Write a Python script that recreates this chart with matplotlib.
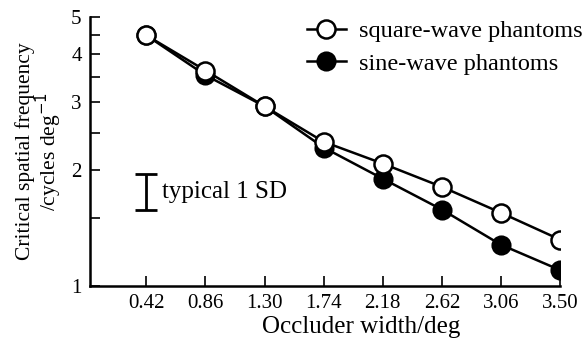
import matplotlib
matplotlib.use("Agg")
import matplotlib.pyplot as plt
from matplotlib.ticker import FixedLocator, NullFormatter

plt.rcParams['font.family'] = ['Liberation Serif', 'DejaVu Serif']

width = [0.42, 0.86, 1.30, 1.74, 2.18, 2.62, 3.06, 3.50]
tick_labels = ["0.42", "0.86", "1.30", "1.74", "2.18", "2.62", "3.06", "3.50"]
square = [4.48, 3.63, 2.93, 2.37, 2.08, 1.81, 1.55, 1.32]
sine = [4.48, 3.53, 2.93, 2.29, 1.90, 1.58, 1.28, 1.10]
sd_x = 0.42
sd_range = [1.58, 1.96]

fig = plt.figure(figsize=(5.85, 3.4), dpi=100)
ax = fig.add_axes([90/585, 1-286/340, (560-90)/585, (286-17)/340])

ax.plot(width, sine, '-o', color='black', lw=1.8, ms=13, mfc='black',
        mec='black', mew=1.5, label='sine-wave phantoms', zorder=3)
ax.plot(width, square, '-o', color='black', lw=1.8, ms=13, mfc='white',
        mec='black', mew=1.8, label='square-wave phantoms', zorder=4)

ax.set_yscale('log')
ax.set_xlim(0, 3.5)
ax.set_ylim(1, 5)
ax.yaxis.set_major_locator(FixedLocator([1, 2, 3, 4, 5]))
ax.yaxis.set_minor_locator(FixedLocator([1.5, 2.5, 3.5, 4.5]))
ax.yaxis.set_minor_formatter(NullFormatter())
ax.set_yticklabels(['1', '2', '3', '4', '5'])
ax.set_xticks(width)
ax.set_xticklabels(tick_labels)
ax.tick_params(direction='in', length=7, width=1.2, labelsize=15, pad=6)
ax.tick_params(which='minor', direction='in', length=7, width=1.2)
for s in ['top', 'right']:
    ax.spines[s].set_visible(False)
for s in ['left', 'bottom']:
    ax.spines[s].set_linewidth(1.8)

gm = (sd_range[0]*sd_range[1])**0.5
ax.errorbar([sd_x], [gm], yerr=[[gm - sd_range[0]], [sd_range[1] - gm]],
            fmt='none', ecolor='black', elinewidth=2, capsize=8, capthick=2)
ax.text(0.535, 1.76, 'typical 1 SD', fontsize=18, va='center', ha='left')

ax.set_xlabel('Occluder width/deg', fontsize=18)
ax.xaxis.set_label_coords(0.577, -0.112)
ax.set_ylabel('Critical spatial frequency\n/cycles deg$^{-1}$', fontsize=15.5,
              linespacing=0.95, labelpad=5)

h, l = ax.get_legend_handles_labels()
fig.legend(h[::-1], l[::-1], loc='upper left',
           bbox_to_anchor=(307/585, 1-20/340), bbox_transform=fig.transFigure,
           frameon=False, fontsize=17.5, handlelength=1.6, handletextpad=0.55,
           labelspacing=0.45, borderpad=0, borderaxespad=0)

fig.savefig('out.png', dpi=100)
